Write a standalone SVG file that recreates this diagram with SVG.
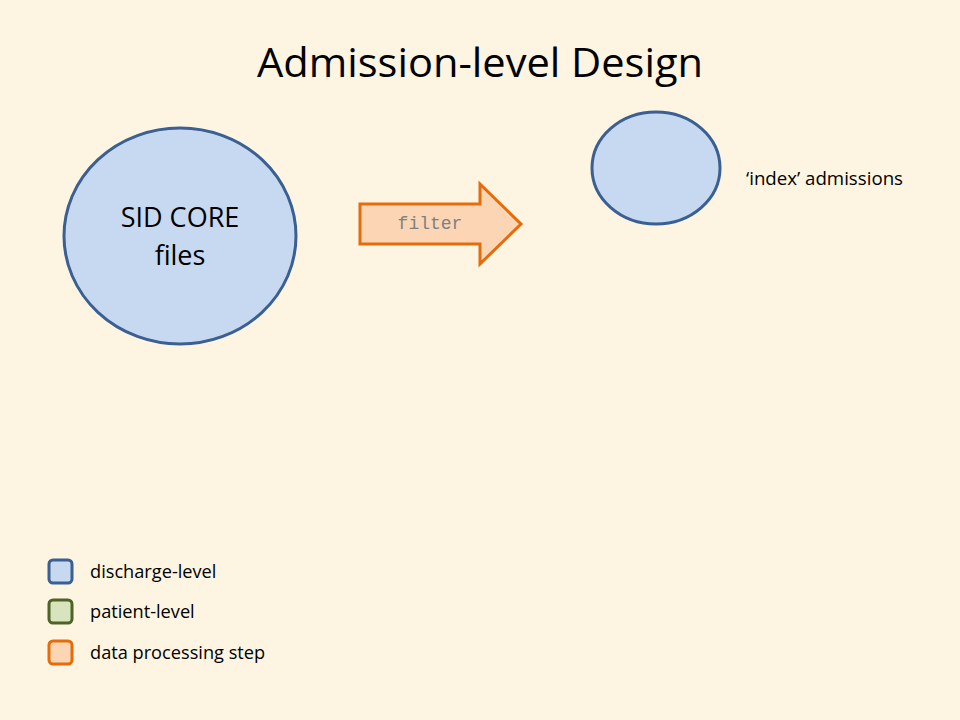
<svg xmlns="http://www.w3.org/2000/svg" width="960" height="720" viewBox="0 0 960 720">
<style>
.bg{fill:#FDF5E2}
.dis{fill:#C6D9F1;stroke:#3A5F93;stroke-width:3}
.pat{fill:#D7E4BD;stroke:#4F6228;stroke-width:3}
.step{fill:#FCD5B5;stroke:#E46C0A;stroke-width:3}
.t{font-family:"Open Sans","Liberation Sans",sans-serif;fill:#000}
.mono{font-family:"Liberation Mono",monospace;fill:#808080}
.lg{font-size:18.2px}
</style>
<rect class="bg" x="0" y="0" width="960" height="720"/>
<text class="t" x="480" y="77" font-size="40" text-anchor="middle" textLength="446" lengthAdjust="spacingAndGlyphs">Admission-level Design</text>
<g id="sid-core">
<ellipse class="dis" cx="180" cy="236" rx="116" ry="108"/>
<text class="t" x="180" y="227" font-size="27" text-anchor="middle">SID CORE</text>
<text class="t" x="180" y="265" font-size="27" text-anchor="middle">files</text>
</g>
<g id="filter">
<polygon class="step" points="360,204 480,204 480,184 521,224 480,264 480,244 360,244"/>
<text class="mono" x="430" y="229" font-size="18" text-anchor="middle">filter</text>
</g>
<g id="index">
<ellipse class="dis" cx="656" cy="168" rx="64" ry="56"/>
<text class="t" x="746" y="185" font-size="18.5" textLength="157" lengthAdjust="spacingAndGlyphs">‘index’ admissions</text>
</g>
<g id="connectors"></g>
<g id="legend">
<rect class="dis" x="49" y="560" width="23" height="23" rx="4"/>
<text class="t lg" x="90" y="578">discharge-level</text>
<rect class="pat" x="49" y="600" width="23" height="23" rx="4"/>
<text class="t lg" x="90" y="618">patient-level</text>
<rect class="step" x="49" y="641" width="23" height="23" rx="4"/>
<text class="t lg" x="90" y="659">data processing step</text>
</g>
</svg>
